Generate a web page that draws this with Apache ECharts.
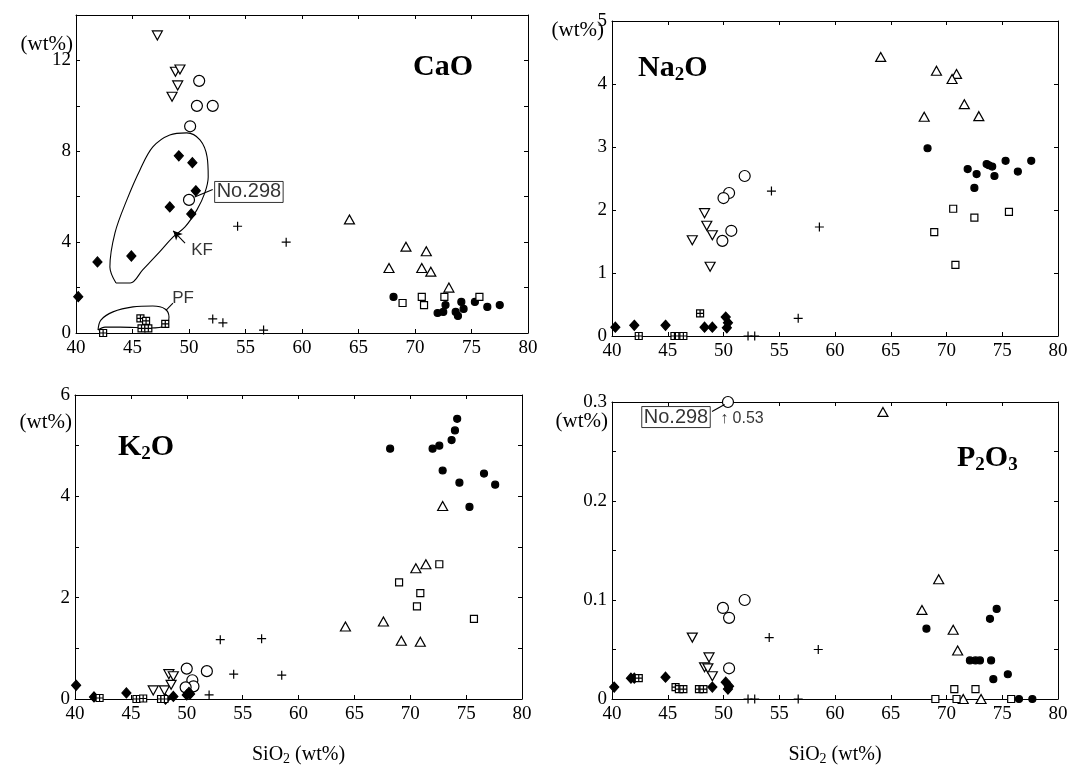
<!DOCTYPE html>
<html>
<head>
<meta charset="utf-8">
<script src="https://cdn.jsdelivr.net/npm/echarts@6/dist/echarts.min.js"></script>
<style>
html,body{margin:0;padding:0;background:#fff}
#chart{width:1071px;height:767px}
</style>
</head>
<body>
<div id="chart"></div>
<script>
// SiO2 axis ticks shared by all four diagrams
const siTicks = [40, 45, 50, 55, 60, 65, 70, 75, 80];

// ---- CaO (wt%) vs SiO2 (wt%) ----
const caoTriDown = [[47.2,13.1],[48.8,11.5],[49.2,11.6],[49.0,10.9],[48.5,10.4]];
const caoCircle  = [[50.9,11.1],[50.7,10.0],[52.1,10.0],[50.1,9.1],[50.0,5.86]];
const caoDiamond = [[49.1,7.8],[50.3,7.5],[50.6,6.26],[48.3,5.55],[50.2,5.24],[44.9,3.39],[41.9,3.13],[40.2,1.6]];
const caoCross   = [[54.3,4.7],[58.6,4.0],[52.1,0.62],[53.0,0.45],[56.6,0.13]];
const caoSqCross = [[42.4,0.0],[45.7,0.64],[46.2,0.53],[45.8,0.2],[46.4,0.2],[47.9,0.4]];
const caoTriUp   = [[64.2,5.0],[69.2,3.8],[71.0,3.6],[67.7,2.86],[70.6,2.86],[71.4,2.7],[73.0,2.0]];
const caoDot     = [[68.1,1.59],[72.0,0.88],[72.5,0.93],[72.7,1.23],[73.6,0.93],[73.8,0.75],[74.1,1.37],[74.3,1.06],[75.3,1.37],[76.4,1.15],[77.5,1.23]];
const caoSquare  = [[68.9,1.32],[70.6,1.59],[70.8,1.23],[72.6,1.59],[75.7,1.59]];
const caoTicks   = [0, 4, 8, 12];

// field outlines in the CaO diagram
const kfOutline = [[43.54,2.2],[43.0,2.91],[43.45,4.41],[44.5,5.86],[45.66,7.18],[46.8,8.19],[48.3,8.72],[49.8,8.81],[50.97,8.5],[51.6,7.75],[51.7,6.87],[51.4,6.17],[50.7,5.42],[49.65,4.67],[48.6,4.23],[47.4,3.57],[45.9,2.78],[44.8,2.2],[43.54,2.2]];
const pfOutline = [[41.95,0.13],[42.2,0.57],[43.27,0.93],[45.04,1.15],[46.8,1.19],[47.88,1.06],[48.23,0.7],[47.88,0.31],[46.55,0.22],[43.9,0.26],[42.57,0.26],[41.95,0.13]];

// ---- Na2O ----
const naTriDown = [[48.3,1.95],[48.5,1.75],[49.0,1.6],[47.2,1.52],[48.8,1.1]];
const naCircle  = [[51.9,2.54],[50.5,2.27],[50.0,2.19],[50.7,1.67],[49.9,1.51]];
const naDiamond = [[40.3,0.14],[42.0,0.17],[44.8,0.17],[48.3,0.14],[49.0,0.14],[50.2,0.3],[50.4,0.21],[50.3,0.13]];
const naCross   = [[54.3,2.3],[58.6,1.73],[56.7,0.28],[52.2,0.0],[52.8,0.0]];
const naSqCross = [[47.9,0.36],[42.4,0.0],[45.6,0.0],[46.0,0.0],[46.4,0.0]];
const naTriUp   = [[64.1,4.43],[69.1,4.21],[70.9,4.16],[70.5,4.08],[71.6,3.68],[68.0,3.48],[72.9,3.49]];
const naDot     = [[68.3,2.98],[71.9,2.65],[72.7,2.57],[72.5,2.35],[73.6,2.73],[73.8,2.71],[74.1,2.69],[74.3,2.54],[75.3,2.78],[76.4,2.61],[77.6,2.78]];
const naSquare  = [[70.6,2.02],[72.5,1.88],[75.6,1.97],[68.9,1.65],[70.8,1.13]];
const naTicks   = [0, 1, 2, 3, 4, 5];

// ---- K2O ----
const kTriDown = [[47.0,0.17],[48.0,0.17],[48.4,0.49],[48.8,0.45],[48.6,0.28]];
const kCircle  = [[50.0,0.6],[51.8,0.55],[50.5,0.37],[50.6,0.25],[49.9,0.23]];
const kDiamond = [[40.1,0.27],[41.7,0.04],[44.6,0.12],[48.1,0.0],[48.8,0.05],[50.2,0.13],[50.0,0.08],[50.3,0.1]];
const kCross   = [[53.0,1.17],[56.7,1.19],[54.2,0.49],[58.5,0.47],[52.0,0.08]];
const kSqCross = [[42.2,0.02],[45.5,0.0],[46.1,0.01],[47.7,0.0],[48.0,0.0]];
const kTriUp   = [[72.9,3.81],[71.4,2.66],[70.5,2.58],[64.2,1.43],[67.6,1.53],[69.2,1.15],[70.9,1.13]];
const kDot     = [[68.2,4.94],[72.0,4.94],[72.6,5.0],[73.7,5.11],[74.0,5.3],[74.2,5.53],[72.9,4.51],[74.4,4.27],[76.6,4.45],[77.6,4.23],[75.3,3.79]];
const kSquare  = [[72.6,2.66],[69.0,2.3],[70.9,2.09],[70.6,1.83],[75.7,1.58]];
const kTicks   = [0, 2, 4, 6];

// ---- P2O3 ----
const pTriDown = [[47.2,0.062],[48.7,0.042],[48.3,0.032],[48.6,0.031],[49.0,0.023]];
const pCircle  = [[50.4,0.53],[51.9,0.100],[49.95,0.092],[50.5,0.082],[50.5,0.031]];
const pDiamond = [[40.2,0.012],[41.7,0.021],[42.0,0.021],[44.8,0.022],[49.0,0.012],[50.2,0.017],[50.5,0.013],[50.4,0.010]];
const pCross   = [[54.1,0.062],[58.5,0.05],[52.2,0.0],[52.8,0.0],[56.7,0.0]];
const pSqCross = [[42.4,0.021],[45.7,0.012],[46.0,0.01],[46.4,0.01],[47.8,0.01],[48.2,0.01]];
const pTriUp   = [[64.3,0.29],[69.3,0.121],[67.8,0.09],[70.6,0.07],[71.0,0.049],[71.5,0.0],[73.1,0.0]];
const pDot     = [[68.2,0.071],[74.5,0.091],[73.9,0.081],[72.1,0.039],[72.6,0.039],[73.0,0.039],[74.0,0.039],[74.2,0.02],[75.5,0.025],[76.5,0.0],[77.7,0.0]];
const pSquare  = [[70.7,0.01],[72.6,0.01],[69.0,0.0],[70.9,0.0],[75.8,0.0]];
const pTicks   = [0, 0.1, 0.2, 0.3];

const sampleName = 'No.298';

const SERIF = '"Liberation Serif","Times New Roman",serif';
const SANS = '"Liberation Sans","DejaVu Sans",sans-serif';

// marker styles for the rock groups
const MARK = {
  triDown: {symbol: 'triangle', rotate: 180, size: [10, 9], color: '#fff'},
  circle:  {symbol: 'circle', size: 11, color: '#fff'},
  diamond: {symbol: 'diamond', size: [9, 10], color: '#000'},
  cross:   {symbol: 'path://M5,0L5,10M0,5L10,5', size: 9, color: 'transparent'},
  sqCross: {symbol: 'path://M0,0L10,0L10,10L0,10ZM5,0L5,10M0,5L10,5', size: 7, color: '#fff'},
  triUp:   {symbol: 'triangle', size: [10, 9], color: '#fff'},
  dot:     {symbol: 'circle', size: 7, color: '#000'},
  square:  {symbol: 'rect', size: 7, color: '#fff'}
};

// panel frames (pixels) and value scales
const panels = [
  {left: 76,  top: 15,  width: 452, height: 318, yMax: 14,  yStep: 2,    ticks: caoTicks, xName: false,
   groups: {triDown: caoTriDown, circle: caoCircle, diamond: caoDiamond, cross: caoCross, sqCross: caoSqCross, triUp: caoTriUp, dot: caoDot, square: caoSquare}},
  {left: 612, top: 21,  width: 446, height: 315, yMax: 5,   yStep: 1,    ticks: naTicks, xName: false,
   groups: {triDown: naTriDown, circle: naCircle, diamond: naDiamond, cross: naCross, sqCross: naSqCross, triUp: naTriUp, dot: naDot, square: naSquare}},
  {left: 75,  top: 395, width: 447, height: 318, yMax: 6,   yStep: 1,    ticks: kTicks, xName: true,
   groups: {triDown: kTriDown, circle: kCircle, diamond: kDiamond, cross: kCross, sqCross: kSqCross, triUp: kTriUp, dot: kDot, square: kSquare}},
  {left: 612, top: 402, width: 446, height: 316, yMax: 0.3, yStep: 0.05, ticks: pTicks, xName: true,
   groups: {triDown: pTriDown, circle: pCircle, diamond: pDiamond, cross: pCross, sqCross: pSqCross, triUp: pTriUp, dot: pDot, square: pSquare}}
];

const grid = [], xAxis = [], yAxis = [], series = [];
const lineBlack = {color: '#000', width: 1};

panels.forEach((p, i) => {
  grid.push({left: p.left, top: p.top, width: p.width, height: p.height});
  const xBase = {
    gridIndex: i, type: 'value', min: siTicks[0], max: siTicks[siTicks.length - 1],
    interval: siTicks[1] - siTicks[0],
    axisLine: {show: true, onZero: false, lineStyle: lineBlack},
    axisTick: {show: true, inside: true, length: 4, lineStyle: lineBlack},
    splitLine: {show: false}
  };
  xAxis.push(Object.assign({}, xBase, {
    position: 'bottom',
    axisLabel: {color: '#000', fontFamily: SERIF, fontSize: 19, margin: 6,
      formatter: v => siTicks.includes(v) ? String(v) : ''},
    name: p.xName ? '{m|SiO}{s|2}{m| (wt%)}' : '',
    nameLocation: 'middle', nameGap: 44,
    nameTextStyle: {rich: {
      m: {fontFamily: SERIF, fontSize: 20, color: '#000'},
      s: {fontFamily: SERIF, fontSize: 14, color: '#000', padding: [9, 0, 0, 0]}
    }}
  }));
  xAxis.push(Object.assign({}, xBase, {position: 'top', axisLabel: {show: false}}));

  const yBase = {
    gridIndex: i, type: 'value', min: 0, max: p.yMax, interval: p.yStep,
    axisLine: {show: true, onZero: false, lineStyle: lineBlack},
    axisTick: {show: true, inside: true, length: 4, lineStyle: lineBlack},
    splitLine: {show: false}
  };
  yAxis.push(Object.assign({}, yBase, {
    position: 'left',
    axisLabel: {color: '#000', fontFamily: SERIF, fontSize: 19, margin: 5,
      padding: i === 0 ? [20, 0, 0, 0] : 0,
      formatter: v => {
        const hit = p.ticks.find(t => Math.abs(t - v) < 1e-9);
        return hit === undefined ? '' : String(hit);
      }}
  }));
  yAxis.push(Object.assign({}, yBase, {position: 'right', axisLabel: {show: false}}));

  Object.keys(MARK).forEach(key => {
    const m = MARK[key];
    series.push({
      type: 'scatter', xAxisIndex: 2 * i, yAxisIndex: 2 * i, clip: false,
      symbol: m.symbol, symbolRotate: m.rotate || 0, symbolSize: m.size,
      itemStyle: {color: m.color, borderColor: '#000', borderWidth: 1.2, opacity: 1},
      // values above the scale are drawn on the upper frame
      data: p.groups[key].map(d => [d[0], Math.min(d[1], p.yMax)]),
      z: key === 'circle' || key === 'triDown' || key === 'triUp' ? 3 : 4
    });
  });
});

// outlines of the KF and PF fields
[kfOutline, pfOutline].forEach(loop => {
  series.push({
    type: 'line', xAxisIndex: 0, yAxisIndex: 0, data: loop, smooth: 0.35,
    symbol: 'none', lineStyle: {color: '#000', width: 1.1}, z: 2, silent: true
  });
});

// text annotations placed on the value scales
function note(xi, yi, pt, text, opts) {
  return Object.assign({
    type: 'scatter', xAxisIndex: xi, yAxisIndex: yi, symbolSize: 0, clip: false, silent: true,
    data: [pt],
    label: Object.assign({show: true, position: 'inside', formatter: text,
      color: '#000', fontFamily: SANS, fontSize: 17}, opts || {}),
    z: 6
  });
}
function leader(xi, yi, from, to, arrow) {
  return {
    type: 'line', xAxisIndex: xi, yAxisIndex: yi, data: [], silent: true,
    markLine: {
      silent: true, animation: false,
      symbol: ['none', arrow ? 'arrow' : 'none'], symbolSize: [7, 9],
      lineStyle: {color: '#000', width: 1.1, type: 'solid'}, label: {show: false},
      data: [[{coord: from}, {coord: to}]]
    }
  };
}

const boxStyle = {fontSize: 20, borderColor: '#000', borderWidth: 1, padding: [1, 2, 0, 2]};
const cao298 = caoCircle[caoCircle.length - 1];
series.push(note(0, 0, [55.3, 6.21], sampleName, boxStyle));
series.push(leader(0, 0, [cao298[0] + 0.5, cao298[1] + 0.13], [52.1, 6.32], false));
series.push(note(0, 0, [51.15, 3.65], 'KF'));
series.push(leader(0, 0, [49.65, 3.96], [48.6, 4.5], true));
series.push(note(0, 0, [49.47, 1.54], 'PF'));
series.push(leader(0, 0, [48.58, 1.32], [47.96, 1.0], false));

const p298 = pCircle[0];
series.push(note(6, 6, [45.74, 0.2848], sampleName, boxStyle));
series.push(leader(6, 6, [48.97, 0.2905], [p298[0] - 0.3, 0.2975], false));
series.push(note(6, 6, [49.7, 0.283], '\u2191 ' + p298[1].toFixed(2), {position: 'right', distance: 0, fontSize: 16}));

// oxide names and unit captions
const rich = {
  m: {fontFamily: SERIF, fontSize: 30, fontWeight: 'bold', fill: '#000'},
  s: {fontFamily: SERIF, fontSize: 19, fontWeight: 'bold', fill: '#000', padding: [14, 0, 0, 0]}
};
function title(x, y, text) {
  return {type: 'text', x: x, y: y, style: {text: text, rich: rich, verticalAlign: 'middle', align: 'left'}, z: 10};
}
function unit(x, y) {
  return {type: 'text', x: x, y: y, style: {text: '(wt%)', fontFamily: SERIF, fontSize: 21, fill: '#000',
    align: 'right', verticalAlign: 'middle'}, z: 10};
}

const chart = echarts.init(document.getElementById('chart'), null, {renderer: 'canvas'});
chart.setOption({
  backgroundColor: '#fff',
  animation: false,
  grid: grid, xAxis: xAxis, yAxis: yAxis, series: series,
  graphic: [
    title(413, 67, '{m|CaO}'),
    title(638, 68, '{m|Na}{s|2}{m|O}'),
    title(118, 447, '{m|K}{s|2}{m|O}'),
    title(957, 458, '{m|P}{s|2}{m|O}{s|3}'),
    unit(73, 44), unit(604, 30), unit(72, 422), unit(608, 421)
  ]
});
</script>
</body>
</html>
